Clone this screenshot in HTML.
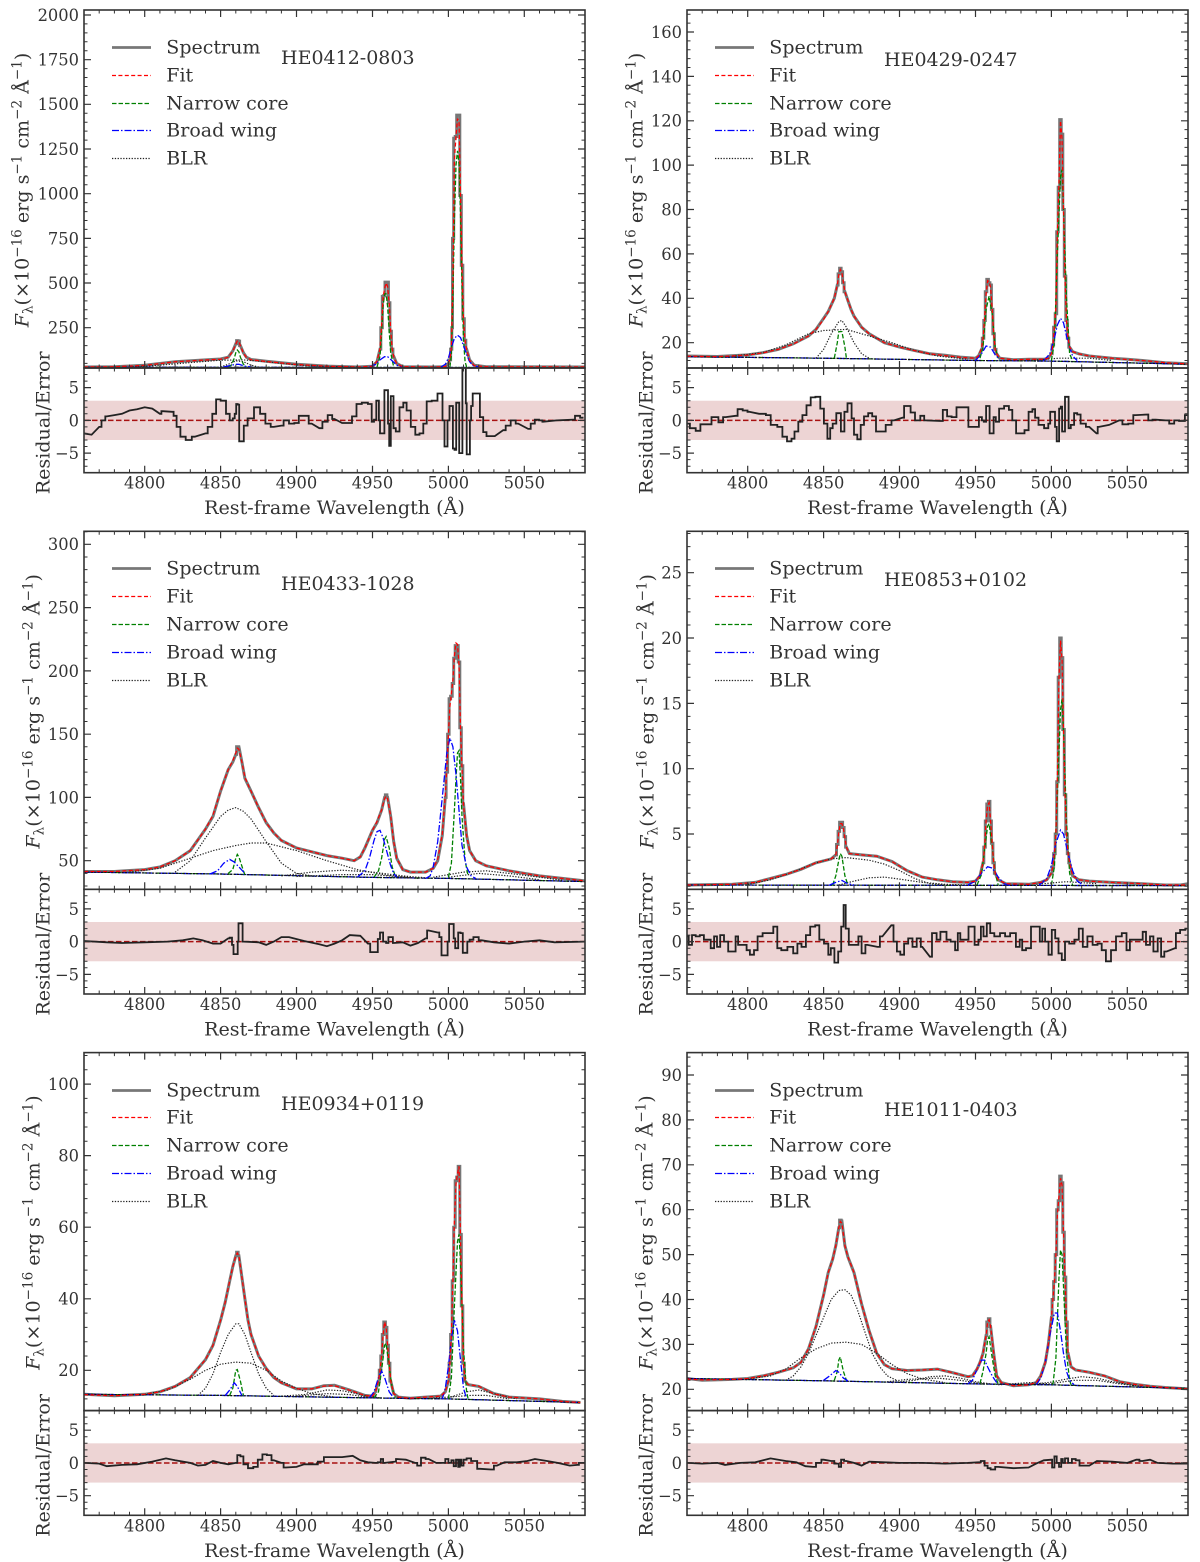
<!DOCTYPE html>
<html lang="en">
<head>
<meta charset="utf-8">
<title>Spectral fits of six quasars</title>
<style>
html,body{margin:0;padding:0;background:#fff;width:1200px;height:1562px;overflow:hidden}
svg{display:block;filter:blur(0.35px)}
text{font-family:"DejaVu Serif","Liberation Serif",serif;fill:#333}
</style>
</head>
<body>
<svg id="figure" xmlns="http://www.w3.org/2000/svg" width="1200" height="1562" viewBox="0 0 1200 1562"></svg>
<script>
// Shared axis values
const xTicks=[4800,4850,4900,4950,5000,5050];
const xLimits=[4760,5090];
const residualTicks=[-5,0,5];
const residualLimits=[-8,8];
const residualBand=[-3,3];
const legendLabels=['Spectrum','Fit','Narrow core','Broad wing','BLR'];

// All series are flat lists: wavelength, value, wavelength, value ...
// HE0412-0803
const he0412YTicks=[250,500,750,1000,1250,1500,1750,2000];
const he0412Spectrum=[4760,30,4780,31,4800,40,4820,60,4840,70,4850,75,4855,85,4858,120,4860,160,4861,178,4862,175,4863,150,4865,110,4867,85,4870,72,4880,62,4900,45,4920,35,4940,30,4950,34,4953,60,4955,130,4956,250,4957,425,4958,430,4958.5,505,4960,505,4961,390,4962,230,4963,130,4964,90,4966,50,4970,32,4990,30,4998,32,5000,50,5001,70,5002,130,5002.5,250,5003,750,5004,1310,5005,1320,5006,1440,5007,1440,5008,990,5009,600,5010,300,5011,180,5012,130,5014,70,5017,40,5025,32,5090,30];
const he0412Fit=[4760,30,4780,31,4800,39,4820,59,4840,69,4850,74,4855,84,4858,118,4860,158,4861,176,4862,172,4863,148,4865,108,4867,84,4870,71,4880,61,4900,44,4920,34,4940,30,4950,34,4953,62,4955,132,4956,260,4957,420,4958,470,4959,500,4960,480,4961,385,4962,235,4963,130,4964,88,4966,48,4970,32,4990,30,4998,32,5000,52,5001,75,5002,140,5003,520,5004,1190,5005,1320,5006,1420,5007,1400,5008,1000,5009,590,5010,290,5011,175,5012,128,5014,68,5017,38,5025,31,5090,30];
const he0412Narrow=[[4855,30,4857,40,4859,80,4860,110,4861,125,4862,115,4863,85,4865,45,4867,30],[4953,30,4955,90,4956,220,4957,370,4958,440,4959,440,4960,370,4961,230,4962,110,4964,30],[5001,30,5002,100,5003,420,5004,850,5005,1160,5006,1240,5007,1170,5008,880,5009,480,5010,180,5011,60,5012,30]];
const he0412Broad=[[4852,30,4856,38,4860,45,4862,45,4866,35,4870,30],[4948,30,4952,45,4955,70,4958,88,4960,88,4963,65,4966,40,4970,30],[4995,30,4998,45,5000,80,5002,140,5004,190,5006,208,5008,195,5010,150,5012,100,5014,60,5016,40,5020,30]];
const he0412Blr=[[4790,30,4810,40,4830,55,4850,68,4865,70,4880,60,4900,42,4920,33,4940,30],[4850,30,4855,45,4860,65,4865,60,4870,40,4875,30]];
const he0412Continuum=[4760,29,5090,27];
const he0412Residual=[4760,-2,4765,-2.2,4770,-1,4773,0,4775,.6,4780,.8,4785,1,4790,1.5,4795,1.7,4800,2,4805,1.8,4810,1,4812,1.4,4818,1.3,4820,.7,4822,-1,4825,-2.5,4829,-3,4833,-2.5,4840,-2,4843,-1,4846,1,4848,3.2,4852,3,4855,1,4857,0,4859,.3,4859.5,1,4860,1,4860.5,2.5,4862,2.4,4862.5,-3.2,4865,-3.2,4865.5,-.8,4870,.3,4874,2,4878,1,4881,-.5,4885,-1,4890,-.8,4893,0,4897,-.5,4900,-.4,4903,.7,4906,.7,4910,-.5,4915,-1.2,4919,-.2,4922,.8,4925,.2,4930,-.4,4935,-.4,4938,.6,4941,2.5,4945,2.7,4949,2.5,4950,-.2,4952,.1,4953,3,4954,3,4954.5,0,4955.5,-2,4957.5,-2,4958.3,4.6,4959.8,4.6,4960.7,-.5,4961.3,-3.9,4962,-3.9,4962.2,3.7,4963.3,3.7,4964.4,-1.2,4966.4,-1.7,4969.2,2,4971.4,2.7,4973.6,1.5,4976.9,-1,4979.6,-2.2,4982.4,-2,4984.6,-.5,4986.8,2.9,4991.2,3,4994.5,4.1,4995.6,4.1,4996.7,0,4998.2,-4,4998.9,-4,5000,0,5001.5,2.2,5002.9,2.2,5003.1,-4.3,5005,-4.5,5005.3,2.7,5007,2.7,5007.3,-5,5009,-5,5009.5,8.5,5011,8.5,5012,2.6,5012.2,-5.2,5013.8,-5.2,5014.6,0,5015.3,2.2,5016.8,4.1,5019.7,4.1,5021.9,.5,5024,-1.8,5026.2,-2.4,5030.6,-2.4,5036.1,-1.5,5039.4,-.8,5042.7,0,5046,-.5,5052.6,-1.3,5055.9,-.5,5058,.1,5061.4,0,5062.5,-.2,5071.3,0,5082.3,.1,5084.5,.7,5089,.4];

// HE0429-0247
const he0429YTicks=[20,40,60,80,100,120,140,160];
const he0429Spectrum=[4760,14,4780,13.8,4800,14.5,4810,15.5,4820,17,4830,19.5,4840,23,4845,26,4850,31,4853,34,4855,37,4857,40,4859,46,4860,51,4861,53.5,4862,52,4863,47,4864,43,4866,39,4868,35,4870,32,4875,27,4880,24,4890,20,4900,18,4910,16.5,4920,15,4930,14.3,4940,13.5,4950,13,4952,14,4954,17,4955,22,4956,30,4957,43,4958,48.5,4959,47,4960,46,4961,35,4962,24,4963,17,4964,15,4966,13,4975,12.3,4985,12.5,4995,12.5,4998,13,5000,15,5001,19,5002,27,5003,33,5004,70,5005,90,5006,120.5,5007,114,5008,80,5009,50,5010,30,5011,22,5012,18,5014,16,5018,15,5025,14,5040,13,5050,12.5,5060,12,5075,11,5090,10.5];
const he0429Fit=[4760,13.9,4780,13.7,4800,14.4,4810,15.4,4820,17,4830,19.4,4840,23,4845,26,4850,30.5,4853,34,4855,37,4857,40,4859,46,4860,50.5,4861,53,4862,51.5,4863,47,4864,43,4866,39,4868,35,4870,32,4875,27,4880,24,4890,20,4900,18,4910,16.4,4920,15,4930,14.2,4940,13.4,4950,13,4952,14,4954,17.5,4955,22,4956,31,4957,42,4958,48,4959,47.5,4960,45,4961,35,4962,24,4963,17,4964,15,4966,13,4975,12.3,4985,12.5,4995,12.5,4998,13,5000,15,5001,19,5002,27,5003,36,5004,70,5005,92,5006,120,5007,112,5008,80,5009,49,5010,30,5011,22,5012,18,5014,16,5018,15,5025,14,5040,13,5050,12.4,5060,12,5075,11,5090,10.4];
const he0429Narrow=[[4857,13,4859,20,4860,25,4862,25,4864,18,4865,13],[4953,13,4955,18,4957,35,4959,41,4961,33,4963,18,4965,13],[5000,12,5002,20,5004,60,5006,95,5007,98,5008,80,5010,40,5012,15,5014,12]];
const he0429Broad=[[4950,12,4954,15,4957,18.5,4960,18,4963,14.5,4966,12.5],[4995,12,4999,15,5002,22,5004,28,5006,31,5008,29,5010,23,5012,18,5014,14,5017,12]];
const he0429Blr=[[4845,13,4850,17,4855,24,4860,29.5,4862,30,4865,27,4870,20,4875,15,4880,13],[4790,14,4810,15.5,4825,19,4840,24,4850,25.5,4865,26,4880,23,4895,20,4910,16.5,4925,14,4945,12.5],[4985,12,5005,13,5025,13,5040,12]];
const he0429Continuum=[4760,13.7,4850,13,4950,12,5000,11.7,5090,10.3];
const he0429Residual=[4760.3,-.5,4763.5,-1.2,4768,-1.6,4769.7,-.6,4774.5,-.6,4777.8,.5,4779.4,.5,4782,-.3,4785.5,.5,4792,.7,4794.7,1.7,4798.7,1.5,4801,1.3,4807.5,1,4811,1,4813,.8,4817.3,-.7,4821.7,-1,4824,-2.5,4827.7,-3.2,4830,-2.8,4831.6,-1.7,4835,-.2,4837,.8,4840.4,2.3,4842.6,3.5,4846.6,3.6,4849,1.8,4851.4,-.5,4853.6,-2.8,4855,-1.2,4857,-.5,4859.7,1.1,4861,1.1,4861.7,-1.7,4862.8,-1.7,4864.6,1.3,4866.8,2.6,4867.9,2.6,4869,.3,4871,-2.2,4873.3,-2.9,4875.5,-.7,4877.7,.6,4881,1.1,4883,.6,4886,-1.7,4888.7,-1.7,4893,-.7,4896.4,0,4902,.4,4904,2.2,4906,2.2,4908.5,1.2,4911.8,0,4915.5,.7,4917,0,4927,-.1,4930,1.6,4932.6,.6,4936,.5,4939,2,4944.7,2,4946,-1,4951,-1,4953.5,.5,4955,0,4956,-.2,4958,2.2,4959,2.2,4959.6,-2,4961.6,-2,4962.3,.5,4964.5,-.2,4966.7,1.8,4971,2.2,4973,1.6,4975.5,0,4978,-2,4981,-2,4983.6,-1.5,4986.4,1.3,4988.6,1.7,4990,.4,4993,-.7,4997.4,-1.2,4998.5,-.5,5000,1.3,5001.8,1.3,5003,-1,5004,-3.2,5004.7,-3.2,5005.5,1.8,5006.9,2.1,5007.3,-1.7,5008.4,-1.7,5009.5,3.6,5011,3.6,5011.7,-1.2,5013.9,-.7,5016,1.1,5018,.9,5020.5,-.5,5025,-1,5029.7,-2,5031.4,-1,5038,-.7,5044.6,0,5049,-.6,5052.3,-.5,5055.6,.8,5063.3,.9,5064.4,0,5068.8,.1,5075.4,0,5079.8,-.5,5082,0,5086.3,-.1,5089.6,.8];

// HE0433-1028
const he0433YTicks=[50,100,150,200,250,300];
const he0433Spectrum=[4760,41.5,4780,41.5,4800,43,4810,45,4820,50,4830,58,4840,75,4845,85,4850,105,4855,122,4858,128,4860,134,4861,140,4862,140,4864,128,4866,115,4868,110,4870,105,4875,92,4880,80,4885,72,4890,66,4900,60,4910,57,4920,54,4930,52,4938,50,4942,53,4945,60,4950,74,4953,80,4956,90,4958,100,4959,102,4960,100,4962,85,4964,65,4966,52,4970,43,4975,41,4985,41,4990,44,4993,50,4996,70,4998,100,4999,120,5000,150,5001,178,5002,180,5003,190,5004,210,5005,220,5006,220,5007,207,5008,155,5009,125,5010,95,5012,70,5014,58,5018,50,5025,46,5040,42,5060,38,5075,36,5090,34];
const he0433Fit=[4760,41.5,4780,41.5,4800,43,4810,45,4820,50,4830,58,4840,75,4845,86,4850,105,4855,122,4858,129,4860,135,4861,139,4862,138,4864,128,4866,116,4868,110,4870,105,4875,92,4880,80,4885,72,4890,66,4900,60,4910,57,4920,54,4930,52,4938,50,4942,53,4945,60,4950,74,4953,81,4956,90,4958,99,4959,101,4960,99,4962,85,4964,65,4966,52,4970,43,4975,41,4985,41,4990,44,4993,51,4996,71,4998,102,4999,122,5000,150,5001,172,5002,182,5003,193,5004,212,5005,222,5006,221,5007,205,5008,155,5009,123,5010,94,5012,70,5014,58,5018,50,5025,46,5040,42,5060,38,5075,36,5090,34];
const he0433Narrow=[[4855,40,4858,43,4860,52,4861,55,4862,53,4865,42,4866,39],[4951,37,4954,42,4956,52,4958,67,4959,69,4961,60,4963,45,4965,38],[5000,37,5002,48,5004,90,5005,115,5006,135,5007,137,5008,115,5009,85,5011,50,5013,38]];
const he0433Broad=[[4843,39.5,4848,42,4852,48,4856,51,4859,49,4862,45,4866,40],[4940,37,4945,42,4948,52,4951,66,4953,73,4955,74,4957,68,4960,55,4962,46,4964,40,4966,37],[4985,36,4988,38,4990,45,4993,65,4996,100,4999,135,5001,147,5003,140,5005,118,5007,90,5009,62,5012,45,5015,38,5018,36]];
const he0433Blr=[[4820,41,4830,50,4840,68,4850,85,4855,90,4860,92,4865,89,4870,83,4880,65,4890,48,4900,40,4910,38],[4790,41,4810,44,4830,52,4845,58,4860,62,4870,64,4880,64,4900,58,4920,50,4940,43,4960,38.5,4975,37],[4890,38,4910,41,4930,42.5,4950,41,4970,38,4985,36.5],[4900,37.5,4930,39,4950,39,4980,36],[4990,37,5010,41,5025,42,5040,40,5060,37,5075,34.5],[5000,37,5020,40,5040,38,5060,35]];
const he0433Continuum=[4760,41,4850,39.5,4950,36.8,5000,36,5090,33.5];
const he0433Residual=[4760,.1,4775,-.1,4785,-.2,4800,-.1,4815,0,4825,.2,4832,.5,4838,.2,4845,-.3,4850,-.3,4855,.5,4857,.6,4858,-.5,4859,-1.9,4861,-1.9,4861.5,0,4862,2.8,4864,2.8,4865,0,4875,-.1,4880,-.5,4885,0,4890,.7,4895,.7,4905,.1,4915,-.4,4920,-.7,4925,-.3,4930,.2,4935,1,4942,.9,4947,-.3,4950,-1.6,4953,-1.6,4954,.4,4956,1.4,4958,0,4960,-.2,4961,.7,4963,.7,4964,-.2,4970,-.1,4975,-.6,4980,-.2,4985,.5,4987,1.7,4993,1.4,4995,.7,4996,-2.1,4999,-2.1,5000,0,5001,2.7,5003,2.7,5004,.5,5005,-1,5006,-1,5007,1.4,5009,1.3,5010,-1.7,5012,-1.7,5013,0,5015,.3,5018,.7,5022,.2,5030,-.1,5040,-.3,5050,0,5060,.2,5070,-.1,5090,0];

// HE0853+0102
const he0853YTicks=[5,10,15,20,25];
const he0853Spectrum=[4760,1.1,4790,1.15,4805,1.3,4815,1.6,4825,1.9,4835,2.3,4845,2.8,4855,3.1,4858,3.4,4859,4.2,4860,5.2,4861,5.9,4862,5.9,4863,5.5,4864,4.8,4865,4,4867,3.5,4875,3.4,4885,3.3,4895,2.9,4905,2.2,4915,1.7,4925,1.5,4935,1.35,4945,1.3,4950,1.4,4953,1.8,4955,2.8,4956,4,4957,6,4958,7.3,4959,7.5,4960,6,4961,4.3,4962,2.8,4963,2,4965,1.5,4970,1.2,4985,1.15,4993,1.3,4997,1.5,5000,2,5001,2.5,5002,3.5,5003,5,5004,9,5005,17,5006,20,5007,18.5,5008,13,5009,8,5010,5,5011,3.5,5012,2.8,5014,1.8,5018,1.5,5025,1.4,5040,1.3,5060,1.2,5075,1.1,5085,1.1,5090,1.2];
const he0853Fit=[4760,1.1,4790,1.15,4805,1.3,4815,1.6,4825,1.9,4835,2.3,4845,2.8,4855,3.1,4858,3.4,4859,4.1,4860,5.1,4861,5.8,4862,5.8,4863,5.4,4864,4.7,4865,4,4867,3.5,4875,3.4,4885,3.3,4895,2.9,4905,2.2,4915,1.7,4925,1.5,4935,1.35,4945,1.3,4950,1.4,4953,1.8,4955,2.8,4956,4,4957,6,4958,7.2,4959,7.4,4960,6,4961,4.3,4962,2.8,4963,2,4965,1.5,4970,1.2,4985,1.15,4993,1.3,4997,1.5,5000,2,5001,2.5,5002,3.5,5003,5,5004,9.5,5005,17,5006,19.8,5007,18.4,5008,13,5009,8,5010,5,5011,3.5,5012,2.8,5014,1.8,5018,1.5,5025,1.4,5040,1.3,5060,1.2,5075,1.1,5085,1.1,5090,1.1];
const he0853Narrow=[[4856,1.1,4858,1.8,4860,3,4861,3.5,4862,3.3,4864,1.8,4866,1.1],[4951,1.1,4954,1.9,4956,3.8,4958,5.6,4959,5.8,4961,4,4963,2,4965,1.1],[5000,1.1,5002,2.5,5004,8,5006,14.5,5007,15.3,5008,13,5010,6,5012,2,5014,1.1]];
const he0853Broad=[[4854,1.1,4858,1.3,4862,1.45,4866,1.2,4870,1.1],[4945,1.1,4950,1.4,4954,2,4958,2.5,4961,2.4,4965,1.7,4969,1.2,4972,1.1],[4992,1.1,4997,1.6,5000,2.6,5003,4.3,5006,5.3,5008,5,5011,3.5,5014,2.2,5017,1.4,5021,1.1]];
const he0853Blr=[[4800,1.15,4815,1.5,4830,2.1,4845,2.8,4855,3.1,4865,3.2,4880,3,4890,2.7,4900,2.2,4910,1.6,4920,1.2,4930,1.1],[4860,1.1,4870,1.4,4880,1.65,4890,1.7,4900,1.55,4915,1.3,4930,1.15,4945,1.1],[4990,1.15,5010,1.35,5030,1.2]];
const he0853Continuum=[4760,1.1,5090,1.05];
const he0853Residual=[4760.3,.8,4762,-.5,4764.6,1,4766.8,.8,4770,1,4772.3,.3,4774.5,.3,4776.7,-1,4779,.8,4780.5,-.8,4783.3,1,4785.5,0,4788.8,-1.5,4791,-1.5,4793,.8,4794.3,-.5,4798.7,-.5,4799.8,-1.3,4803,-2,4805.3,-1.3,4807.7,.8,4811.9,1.3,4815,1.3,4818.7,2.3,4820.2,-1,4824,-1.3,4828.3,-.8,4831.6,-1.8,4833.8,-.3,4837,-.8,4839.7,1,4842.6,2.3,4846.3,2.5,4848,.3,4852.5,-.3,4853.6,-2,4855.8,-1,4858.4,-3.2,4860.8,-1.5,4862.4,2.3,4863.9,5.6,4865.2,2,4867.9,-.5,4872,-.5,4873.8,.8,4876.2,-1.8,4878.8,-.5,4885.4,-.8,4888.7,.8,4894.6,2.5,4897.5,0,4899,-1.5,4902,-2,4904,-.3,4907.4,.5,4909.6,-.8,4913,.5,4915,-.8,4920,-2.3,4922.8,1.3,4926,.3,4927.8,1.5,4930,1.5,4931.8,.3,4935.5,0,4937.7,-1.3,4939,1.3,4941,.3,4944.3,.3,4946.5,2.3,4948,2.3,4950.9,-.5,4953,.3,4954.2,2.3,4956.4,.8,4958.6,2.8,4960.8,1.3,4964,.8,4968.4,1.3,4970.6,.8,4975,1.3,4978.3,-.8,4980,.3,4981.6,-1.3,4985,-1,4988.2,2.3,4991.5,2.3,4993.3,0,4994.8,2,4997,0,4999.2,-2,5001.4,1.8,5003.6,.5,5005.8,-1.8,5008,-2.8,5010,0,5013.5,-.3,5016.8,.3,5019.4,2,5022,-.8,5025.5,.8,5028.8,-.5,5032,-.3,5034.3,-1.3,5037.6,-3,5041,-1.3,5044.2,.8,5048.6,1.3,5050.4,-1.3,5053,.3,5059.6,.3,5060.7,1.5,5064,-.5,5066,.8,5068.4,-1.5,5071.7,.5,5072.8,-2.3,5076,-1.5,5081.5,-1,5082.6,1.3,5087,1.8,5089.5,2];

// HE0934+0119
const he0934YTicks=[20,40,60,80,100];
const he0934Spectrum=[4760,13.3,4780,12.9,4800,13.3,4810,14,4820,15.5,4830,18,4840,23,4845,27,4850,34,4853,39,4856,45,4858,49,4860,52,4861,53,4862,52,4864,46,4866,40,4868,34,4870,30,4875,24,4880,20.5,4885,18,4890,16.5,4900,14.8,4910,14.8,4918,15.7,4925,15.8,4935,14.5,4945,13,4950,12.8,4952,14,4954,17,4955,20,4956,24,4957,30,4958,33.5,4959,32,4960,27,4961,22,4962,17,4964,13.5,4967,12.5,4975,12.2,4985,12.5,4995,12.8,4998,14,5000,17,5001,22,5002,30,5003,45,5004,60,5005,73,5006,74,5007,77,5008,58,5009,38,5010,22,5011,17,5013,16,5020,15.5,5025,14.5,5030,13.5,5040,12.5,5060,12,5075,11.3,5087,11];
const he0934Fit=[4760,13.2,4780,12.9,4800,13.3,4810,14,4820,15.5,4830,18,4840,23,4845,27,4850,34,4853,39,4856,45,4858,49,4860,52,4861,52.8,4862,52,4864,46,4866,40,4868,34,4870,30,4875,24,4880,20.5,4885,18,4890,16.5,4900,14.8,4910,14.8,4918,15.6,4925,15.7,4935,14.4,4945,13,4950,12.8,4952,14,4954,17,4955,20,4956,24,4957,30,4958,33.5,4959,32,4960,27,4961,22,4962,17,4964,13.5,4967,12.5,4975,12.2,4985,12.5,4995,12.8,4998,14,5000,17,5001,22,5002,30,5003,45,5004,62,5005,72,5006,75,5007,77,5008,57,5009,38,5010,22,5011,17,5013,16,5020,15.6,5025,14.5,5030,13.4,5040,12.5,5060,12,5075,11.3,5087,11];
const he0934Narrow=[[4856,13,4858,15,4860,20,4861,20.2,4863,17,4865,13],[4951,12.3,4954,14,4956,20,4958,27,4959,27.5,4961,21,4963,15,4965,12.3],[5000,12,5002,18,5004,38,5006,56,5007,58,5008,50,5010,26,5012,14,5013,12]];
const he0934Broad=[[4853,13,4856,14.5,4859,16.5,4861,15.5,4864,13],[4948,12.3,4951,14,4954,18,4956,19.8,4958,18,4961,14,4964,12.3],[4996,12,4998,15,5000,21,5002,29,5004,34,5006,31,5008,23,5010,15,5012,12]];
const he0934Blr=[[4835,13,4840,15,4845,19,4850,25,4855,30,4860,33,4862,33,4866,30,4870,25,4875,19,4880,15,4885,13],[4800,13.3,4815,14.5,4830,17.5,4840,20,4850,21.7,4860,22.3,4870,22,4880,20,4890,17,4900,15,4910,13.5,4925,12.5],[4890,12.8,4905,13.2,4920,14.5,4930,14.3,4945,13,4955,12.3],[4900,12.8,4920,13.5,4935,13.2,4950,12.3],[5000,12.3,5012,14,5020,14.5,5030,13.5,5045,12],[4990,12.2,5015,13,5025,13,5040,12]];
const he0934Continuum=[4760,13.3,4850,13,4950,12.3,5000,12,5087,11];
const he0934Residual=[4760,0,4770,-.1,4775,-.5,4785,-.3,4795,-.2,4805,.2,4814,.7,4820,.4,4830,0,4835,-.4,4840,-.3,4845,.3,4850,0,4855,-.2,4860,0,4862,1.2,4864,1,4866,-.2,4870,-.8,4873,-.6,4876,.5,4879,1.3,4882,1.2,4885,.4,4890,0,4893,-.7,4900,-.6,4905,-.2,4912,-.2,4916,.2,4920,.9,4930,.9,4937,1.1,4942,.4,4947,.1,4952,0,4955,.1,4956,.6,4958,0,4965,.2,4966,.6,4972,.5,4978,0,4981,-.4,4983,.8,4987,.6,4992,0,4997,0,4999,.6,5001,0,5003,.4,5004,-.5,5006,.5,5007,-.6,5008,.5,5009,-.4,5011,.5,5013,.7,5017,.3,5021,-.9,5028,-1,5032,-.4,5037,.1,5045,.1,5052,.3,5057,.6,5065,.3,5072,0,5080,-.4,5085,-.3,5087,0,5090,0];

// HE1011-0403
const he1011YTicks=[20,30,40,50,60,70,80,90];
const he1011Spectrum=[4760,22.4,4770,22,4790,22.2,4800,22.4,4810,23,4820,23.8,4830,24.8,4835,26,4840,29,4845,34,4850,41,4853,46,4856,49,4858,52,4860,56,4861,57.7,4862,57.5,4864,52,4866,49.5,4870,46,4875,39,4880,33,4885,28,4890,25.5,4895,24.6,4905,24.2,4915,24.3,4925,24.5,4935,23.7,4945,22.8,4948,23,4951,24.5,4953,26,4955,28,4957,32,4958,35,4959,35.7,4960,34,4962,28,4964,23,4967,21.5,4975,20.8,4985,21,4990,21.5,4993,23,4996,26,4998,30,5000,36,5001,40,5002,44,5003,50,5004,60,5005,62,5006,67.5,5007,66,5008,55,5009,45,5010,35,5011,28,5013,25,5016,24.3,5025,23.8,5035,23,5045,21.7,5055,21.1,5065,20.7,5075,20.4,5090,20.1];
const he1011Fit=[4760,22.3,4770,22.1,4790,22.2,4800,22.4,4810,23,4820,23.8,4830,24.8,4835,26,4840,29,4845,34,4850,41,4853,46,4856,49,4858,52,4860,56,4861,57.4,4862,57,4864,52,4866,49.5,4870,46,4875,39,4880,33,4885,28,4890,25.5,4895,24.6,4905,24.2,4915,24.3,4925,24.5,4935,23.7,4945,22.8,4948,23,4951,24.5,4953,26,4955,28,4957,32,4958,35,4959,35.5,4960,34,4962,28,4964,23,4967,21.5,4975,20.8,4985,21,4990,21.5,4993,23,4996,26,4998,30,5000,36,5001,40,5002,44,5003,50,5004,59,5005,63,5006,67,5007,65.5,5008,55,5009,45,5010,35,5011,28,5013,25,5016,24.3,5025,23.8,5035,23,5045,21.7,5055,21.1,5065,20.7,5075,20.4,5090,20.1];
const he1011Narrow=[[4857,22,4859,24,4860,26.5,4861,27.2,4863,24,4865,22],[4953,21.3,4955,24,4957,28,4958,31,4959,31.7,4961,27,4963,23,4965,21.2],[5001,21,5003,27,5005,45,5006,51,5007,50,5008,43,5010,28,5012,22,5013,21]];
const he1011Broad=[[4850,22,4854,23,4858,24.2,4860,23.8,4863,22.5,4866,21.9],[4945,21.2,4948,22,4951,24.5,4954,26.5,4956,26.5,4958,25,4961,23,4964,21.5],[4990,21,4993,22.5,4996,26,4999,32,5002,37,5004,37,5006,33,5008,28,5010,24,5012,22,5015,21]];
const he1011Blr=[[4825,22,4830,23,4835,25,4840,28,4845,32,4850,36,4855,40,4860,42,4864,42.2,4868,41,4872,38,4877,33,4882,28,4887,25,4892,23,4898,22],[4800,22.3,4815,23,4825,24.5,4835,27,4845,29,4855,30.3,4865,30.5,4875,30,4885,28,4895,25.5,4905,23.5,4915,22.3,4930,21.5],[4895,21.5,4910,22,4920,22.8,4930,23,4940,22.5,4950,21.7,4960,21.2],[4890,21.6,4905,22.2,4925,22.5,4940,22,4955,21.2],[4990,21.2,5000,21.6,5010,22.3,5020,22.8,5030,22.5,5040,21.7,5055,20.8],[5000,21.3,5015,22,5030,22,5045,21.2,5060,20.6],[4965,21,4985,21.5,5000,21.2]];
const he1011Continuum=[4760,22.4,4850,21.9,4950,21.2,5000,21,5090,20.2];
const he1011Residual=[4760,0,4770,-.1,4780,0,4785,-.3,4795,0,4805,.1,4815,.7,4825,.3,4832,.1,4838,-.5,4843,-.6,4847,0,4850,.5,4855,.3,4859,-.1,4861,-.6,4862,.5,4865,.3,4870,0,4875,-.4,4880,.2,4890,.1,4900,0,4915,0,4930,-.1,4945,0,4952,.1,4955,.3,4957,-.4,4959,-.8,4961,-1,4965,-.6,4975,-.8,4985,-.7,4990,-.1,4995,.4,5000,.5,5001,-.7,5003,1,5004,0,5006,-.6,5007,.6,5008,0,5010,.7,5012,0,5015,.6,5017,.4,5020,-.4,5025,-.4,5030,.3,5040,.2,5050,0,5056,.5,5060,.3,5065,.5,5070,0,5080,-.1,5090,-.1];

const panels=[
 {title:'HE0412-0803',left:84,top:10,yLim:[24.5,2028],yTicks:he0412YTicks,yMinor:50,spectrum:he0412Spectrum,fit:he0412Fit,narrow:he0412Narrow,broad:he0412Broad,blr:he0412Blr,continuum:he0412Continuum,residual:he0412Residual,titleY:64,labelX:22},
 {title:'HE0429-0247',left:687,top:10,yLim:[8.6,169.9],yTicks:he0429YTicks,yMinor:4,spectrum:he0429Spectrum,fit:he0429Fit,narrow:he0429Narrow,broad:he0429Broad,blr:he0429Blr,continuum:he0429Continuum,residual:he0429Residual,titleY:66,labelX:636},
 {title:'HE0433-1028',left:84,top:531.3,yLim:[27.4,310.3],yTicks:he0433YTicks,yMinor:10,spectrum:he0433Spectrum,fit:he0433Fit,narrow:he0433Narrow,broad:he0433Broad,blr:he0433Blr,continuum:he0433Continuum,residual:he0433Residual,titleY:590,labelX:33},
 {title:'HE0853+0102',left:687,top:531.3,yLim:[0.77,28.17],yTicks:he0853YTicks,yMinor:1,spectrum:he0853Spectrum,fit:he0853Fit,narrow:he0853Narrow,broad:he0853Broad,blr:he0853Blr,continuum:he0853Continuum,residual:he0853Residual,titleY:586,labelX:647},
 {title:'HE0934+0119',left:84,top:1052.6,yLim:[8.74,108.8],yTicks:he0934YTicks,yMinor:4,spectrum:he0934Spectrum,fit:he0934Fit,narrow:he0934Narrow,broad:he0934Broad,blr:he0934Blr,continuum:he0934Continuum,residual:he0934Residual,titleY:1110,labelX:33},
 {title:'HE1011-0403',left:687,top:1052.6,yLim:[15.26,95],yTicks:he1011YTicks,yMinor:2,spectrum:he1011Spectrum,fit:he1011Fit,narrow:he1011Narrow,broad:he1011Broad,blr:he1011Blr,continuum:he1011Continuum,residual:he1011Residual,titleY:1116,labelX:646}
];

const SVGNS='http://www.w3.org/2000/svg';
const figure=document.getElementById('figure');
const AXW=501, TOPH=358, RESH=104.7;
const DASH={narrow:'4.5 2',fit:'4 2.4',broad:'7 2 1.5 2',blr:'1.3 1.5'};

function make(parent,tag,attrs,text){
  const el=document.createElementNS(SVGNS,tag);
  for(const k in attrs)el.setAttribute(k,attrs[k]);
  if(text!==undefined)el.textContent=text;
  parent.appendChild(el);
  return el;
}
function xScale(p,w){return p.left+(w-xLimits[0])/(xLimits[1]-xLimits[0])*AXW;}
function yScale(p,v){return p.top+TOPH-(v-p.yLim[0])/(p.yLim[1]-p.yLim[0])*TOPH;}
function rScale(p,v){return p.top+TOPH+(residualLimits[1]-v)/(residualLimits[1]-residualLimits[0])*RESH;}
// stepGap: neighbouring samples closer than this are joined as a mid-point step, as in a binned spectrum
function linePoints(p,flat,ys,stepGap){
  const out=[];
  for(let i=0;i<flat.length;i+=2){
    const x=xScale(p,flat[i]),y=ys(p,flat[i+1]);
    if(i>0&&stepGap&&flat[i]-flat[i-2]<=stepGap){
      const mid=((xScale(p,flat[i-2])+x)/2).toFixed(1);
      out.push(mid+','+ys(p,flat[i-1]).toFixed(1));
      out.push(mid+','+y.toFixed(1));
    }
    out.push(x.toFixed(1)+','+y.toFixed(1));
  }
  return out.join(' ');
}
function drawSeries(parent,p,flat,ys,style,name,stepGap){
  const el=make(parent,'polyline',Object.assign({points:linePoints(p,flat,ys,stepGap),fill:'none','stroke-linejoin':'miter'},style));
  
  
  return el;
}
function tickPath(parent,d,w,name){
  const el=make(parent,'path',{d:d,stroke:'#333','stroke-width':w,fill:'none'});
  
  
}
function minorValues(lo,hi,step,majors){
  const out=[];
  for(let v=Math.ceil(lo/step)*step;v<=hi+1e-9;v+=step){
    if(!majors.some(m=>Math.abs(m-v)<1e-6))out.push(v);
  }
  return out;
}
function drawXTicks(g,p,yTop,yBot,prefix){
  const mn=minorValues(xLimits[0],xLimits[1],10,xTicks);
  let major='',minor='';
  xTicks.forEach(w=>{const x=xScale(p,w).toFixed(1);major+=`M${x} ${yBot}v-7M${x} ${yTop}v7`;});
  mn.forEach(w=>{const x=xScale(p,w).toFixed(1);minor+=`M${x} ${yBot}v-3.5M${x} ${yTop}v3.5`;});
  tickPath(g,major,1.2,prefix+'-x-major-ticks');
  tickPath(g,minor,1,prefix+'-x-minor-ticks');
}
function drawYTicks(g,p,ys,lim,ticks,step,prefix){
  const L=p.left,R=p.left+AXW;
  let major='',minor='';
  ticks.forEach(v=>{const y=ys(p,v).toFixed(1);major+=`M${L} ${y}h7M${R} ${y}h-7`;});
  minorValues(lim[0],lim[1],step,ticks).forEach(v=>{const y=ys(p,v).toFixed(1);minor+=`M${L} ${y}h3.5M${R} ${y}h-3.5`;});
  tickPath(g,major,1.2,prefix+'-y-major-ticks');
  tickPath(g,minor,1,prefix+'-y-minor-ticks');
  ticks.forEach(v=>{
    const t=make(g,'text',{x:L-5,y:(ys(p,v)+5.9).toFixed(1),'text-anchor':'end','font-size':16.3},String(v).replace('-','\u2212'));
    
    
  });
}

panels.forEach((p,idx)=>{
  const id=p.title.toLowerCase().replace('+','-');
  const L=p.left,R=L+AXW,T=p.top,M=T+TOPH,B=M+RESH;
  const g=make(figure,'g',{});
  
  

  const defs=make(g,'defs',{});
  const c1=make(defs,'clipPath',{id:'clipTop'+idx});
  make(c1,'rect',{x:L,y:T,width:AXW,height:TOPH});
  const c2=make(defs,'clipPath',{id:'clipRes'+idx});
  make(c2,'rect',{x:L,y:M,width:AXW,height:RESH});

  // Flux plot
  const plot=make(g,'g',{'clip-path':`url(#clipTop${idx})`});
  
  
  drawSeries(plot,p,p.spectrum,yScale,{stroke:'#777','stroke-width':3},'spectrum-line',1.6);
  drawSeries(plot,p,p.continuum,yScale,{stroke:'#008000','stroke-width':1.2,'stroke-dasharray':DASH.narrow},'narrow-core-baseline');
  drawSeries(plot,p,p.continuum,yScale,{stroke:'#0000ff','stroke-width':1.2,'stroke-dasharray':DASH.broad},'broad-wing-baseline');
  drawSeries(plot,p,p.continuum,yScale,{stroke:'#111','stroke-width':1.2,'stroke-dasharray':'2.2 1.2'},'continuum-line');
  p.blr.forEach(s=>drawSeries(plot,p,s,yScale,{stroke:'#222','stroke-width':1.2,'stroke-dasharray':DASH.blr},'blr-component'));
  p.narrow.forEach(s=>drawSeries(plot,p,s,yScale,{stroke:'#008000','stroke-width':1.3,'stroke-dasharray':DASH.narrow},'narrow-core-component'));
  p.broad.forEach(s=>drawSeries(plot,p,s,yScale,{stroke:'#0000ff','stroke-width':1.3,'stroke-dasharray':DASH.broad},'broad-wing-component'));
  drawSeries(plot,p,p.fit,yScale,{stroke:'#f00','stroke-width':1.25,'stroke-dasharray':DASH.fit},'fit-line');

  // Residual plot
  const res=make(g,'g',{'clip-path':`url(#clipRes${idx})`});
  
  
  const band=make(res,'rect',{x:L,y:rScale(p,residualBand[1]),width:AXW,height:rScale(p,residualBand[0])-rScale(p,residualBand[1]),fill:'#a52a2a','fill-opacity':0.2});
  
  
  const zero=make(res,'line',{x1:L,x2:R,y1:rScale(p,0),y2:rScale(p,0),stroke:'#a81010','stroke-width':1.5,'stroke-dasharray':'5.5 2.5'});
  
  
  drawSeries(res,p,p.residual,rScale,{stroke:'#222','stroke-width':1.8},'residual-line',4.5);

  // Axes
  const axes=make(g,'g',{});
  
  
  drawXTicks(axes,p,T,M,'flux');
  drawXTicks(axes,p,M,B,'residual');
  drawYTicks(axes,p,yScale,p.yLim,p.yTicks,p.yMinor,'flux');
  drawYTicks(axes,p,rScale,residualLimits,residualTicks,1,'residual');
  const frame1=make(axes,'rect',{x:L,y:T,width:AXW,height:TOPH,fill:'none',stroke:'#333','stroke-width':1.6});
  
  
  const frame2=make(axes,'rect',{x:L,y:M,width:AXW,height:RESH,fill:'none',stroke:'#333','stroke-width':1.6});
  
  
  xTicks.forEach(w=>{
    const t=make(axes,'text',{x:xScale(p,w).toFixed(1),y:B+16,'text-anchor':'middle','font-size':16.3},String(w));
    
    
  });
  const xl=make(axes,'text',{x:L+AXW/2,y:B+41.5,'text-anchor':'middle','font-size':19.1},'Rest-frame Wavelength (\u00c5)');
  
  

  const rl=make(axes,'text',{transform:`translate(${L-41} ${M+RESH/2+2.5}) rotate(-90)`,'text-anchor':'middle','font-size':19.1,y:6.5},'Residual/Error');
  
  

  const fl=make(axes,'text',{transform:`translate(${p.labelX} ${T+TOPH/2+1}) rotate(-90)`,'text-anchor':'middle','font-size':19.1,y:6.5});
  
  
  const parts=[['F',0,'italic',19.1],['\u03bb',4,'normal',13.5],['(\u00d710',-4,'normal',19.1],['\u221216',-7,'normal',13.5],[' erg s',7,'normal',19.1],['\u22121',-7,'normal',13.5],[' cm',7,'normal',19.1],['\u22122',-7,'normal',13.5],[' \u00c5',7,'normal',19.1],['\u22121',-7,'normal',13.5],[')',7,'normal',19.1]];
  parts.forEach(a=>make(fl,'tspan',{dy:a[1],'font-style':a[2],'font-size':a[3]},a[0]));

  const ti=make(axes,'text',{x:L+197,y:p.titleY,'font-size':19},p.title);
  
  

  // Legend
  const leg=make(g,'g',{});
  
  
  const styles=[{stroke:'#777','stroke-width':2.8},{stroke:'#f00','stroke-width':1.3,'stroke-dasharray':DASH.fit},{stroke:'#008000','stroke-width':1.3,'stroke-dasharray':DASH.narrow},{stroke:'#0000ff','stroke-width':1.3,'stroke-dasharray':DASH.broad},{stroke:'#222','stroke-width':1.2,'stroke-dasharray':DASH.blr}];
  legendLabels.forEach((label,i)=>{
    const y=Math.round(T+37+i*27.8)+0.5;
    const s=make(leg,'line',Object.assign({x1:L+28,x2:L+67,y1:y,y2:y},styles[i]));
    
    
    const t=make(leg,'text',{x:L+82.3,y:y+6,'font-size':19},label);
    
    
  });
});
</script>
</body>
</html>
